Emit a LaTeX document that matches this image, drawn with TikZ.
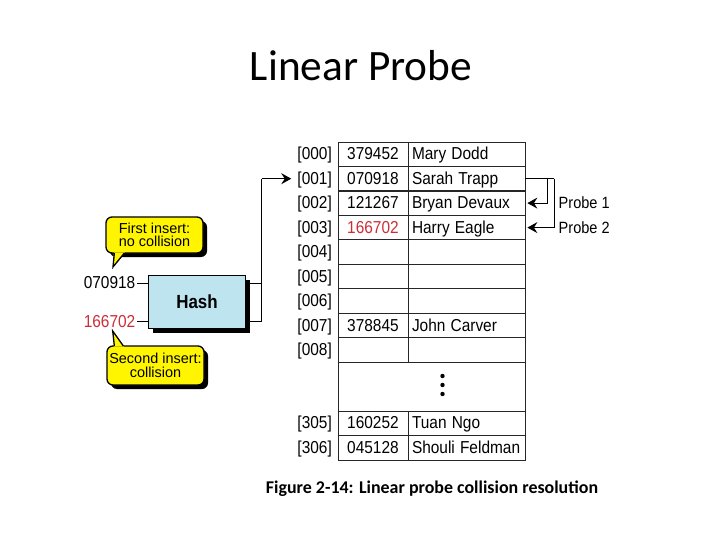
\documentclass[tikz,border=0pt]{standalone}
\usepackage{fontspec}
\setmainfont{Liberation Sans}
\newfontfamily\calib{Carlito}
\usetikzlibrary{arrows.meta,shadows}
\definecolor{probered}{RGB}{205,45,55}
\definecolor{hashblue}{RGB}{190,228,240}
\definecolor{calloutyellow}{RGB}{255,245,0}
\newcommand\vs[1]{\scalebox{1}[1.12]{#1}}
\begin{document}
\begin{tikzpicture}[x=1bp,y=-1bp,
  tbl/.style={draw=black!85, line width=0.8bp},
  txt/.style={inner sep=0pt, text height=14bp, text depth=2.8bp, font=\fontsize{15.5}{18}\selectfont},
  numcell/.style={tbl, txt, minimum width=70bp, minimum height=24.45bp},
  namecell/.style={tbl, txt, minimum height=24.45bp, text width=109bp, inner xsep=4bp, align=left},
  idxlbl/.style={txt, anchor=east},
  conn/.style={draw=black, line width=1bp},
  tip/.style={-{Stealth[length=10bp, width=11bp, inset=3.5bp]}},
  callout/.style={draw, line width=1.3bp, fill=calloutyellow, rounded corners=6bp,
    minimum width=97bp, inner sep=0pt, align=center,
    font=\fontsize{14.5}{13.6}\selectfont,
    drop shadow={shadow xshift=4bp, shadow yshift=-4bp, opacity=1, fill=black}},
  callline/.style={line width=1.3bp, line join=miter},
]
\useasboundingbox (0,0) rectangle (720,540);

% title and caption
\node[font=\calib\fontsize{43.5}{50}\selectfont, anchor=base, inner sep=0pt] (title) at (361,81) {Linear Probe};
\node[font=\calib\bfseries\fontsize{18}{20}\selectfont, anchor=base, inner sep=0pt] (cap) at (432,493) {Figure 2-14: Linear probe collision resolution};

% table
\foreach \i/\y/\idx/\num/\nm in {
  0/154.2/000/379452/Mary Dodd,
  1/178.7/001/070918/Sarah Trapp,
  2/203.1/002/121267/Bryan Devaux,
  3/227.6/003/{\textcolor{probered}{166702}}/Harry Eagle,
  4/252.0/004//,
  5/276.5/005//,
  6/300.9/006//,
  7/325.4/007/378845/John Carver,
  8/349.8/008//,
  9/423.2/305/160252/Tuan Ngo,
  10/447.7/306/045128/Shouli Feldman}
{
  \node[idxlbl] (idx\i) at (332,\y) {\vs{[\idx]}};
  \node[numcell] (num\i) at (373,\y) {\vs{\num}};
  \node[namecell] (nam\i) at (466.5,\y) {\vs{\nm}};
}
\node[tbl, minimum width=187bp, minimum height=49bp, inner sep=0pt] (gap) at (431.5,386.5) {};
\foreach \yy in {376,385,394} \fill (442.5,\yy) circle (2.2bp);

% hash
\node[draw, line width=0.8bp, fill=hashblue, minimum width=97.4bp, minimum height=52.6bp,
  font=\bfseries\fontsize{17}{20}\selectfont,
  drop shadow={shadow xshift=4.5bp, shadow yshift=-4.5bp, opacity=1, fill=black}] (hash) at (197,302) {\vs{Hash}};

\node[txt, anchor=east] (in1) at (135.5,283) {\vs{070918}};
\node[txt, anchor=east, text=probered] (in2) at (135.5,321.7) {\vs{166702}};

\draw[conn, shorten <=1.5bp] (in1.east) -- (in1.east -| hash.west);
\draw[conn, shorten <=1.5bp] (in2.east) -- (in2.east -| hash.west);

\coordinate (jt) at (261.5,178.7);
\draw[conn] (hash.east |- in1.east) -- (in1.east -| jt);
\draw[conn] (hash.east |- in2.east) -- (in2.east -| jt) -- (jt);
\draw[conn, tip, shorten >=6bp] (jt) -- (jt -| idx1.west);

% probes
\coordinate (p1) at (547,178.7);
\coordinate (p2) at (554.3,178.7);
\draw[conn] (nam1.east) -- (nam1.east -| p2);
\draw[conn, tip, shorten >=2bp] (nam1.east -| p1) -- (nam2.east -| p1) -- (nam2.east);
\draw[conn, tip, shorten >=2bp] (nam1.east -| p2) -- (nam3.east -| p2) -- (nam3.east);
\node[txt, anchor=west, font=\fontsize{14.6}{17}\selectfont] (pr1) at (558.5,203.1) {\vs{Probe 1}};
\node[txt, anchor=west, font=\fontsize{14.6}{17}\selectfont] (pr2) at (558.5,227.6) {\vs{Probe 2}};

% callout 1
\coordinate (t1) at (113,267);
\node[callout, minimum height=36bp] (c1) at (154.5,235) {First insert:\\no collision};
\fill[calloutyellow] ([xshift=8.5bp,yshift=1.2bp]c1.south west) -- (t1) -- ([xshift=19.5bp,yshift=1.2bp]c1.south west) -- cycle;
\draw[callline] ([xshift=9bp,yshift=0.6bp]c1.south west) -- (t1) -- ([xshift=19bp,yshift=0.6bp]c1.south west);

% callout 2
\coordinate (t2) at (112.7,331);
\node[callout, minimum height=39bp] (c2) at (155.5,365.5) {Second insert:\\collision};
\fill[calloutyellow] ([xshift=7.5bp,yshift=-1.2bp]c2.north west) -- (t2) -- ([xshift=17.5bp,yshift=-1.2bp]c2.north west) -- cycle;
\draw[callline] ([xshift=8bp,yshift=-0.6bp]c2.north west) -- (t2) -- ([xshift=17bp,yshift=-0.6bp]c2.north west);
\end{tikzpicture}
\end{document}
